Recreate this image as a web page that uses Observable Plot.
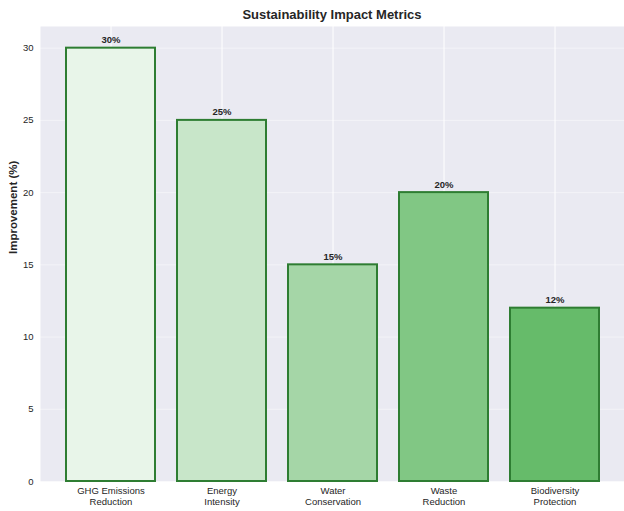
<!DOCTYPE html>
<html>
<head>
<meta charset="utf-8">
<script src="https://cdn.jsdelivr.net/npm/d3@7"></script>
<script src="https://cdn.jsdelivr.net/npm/@observablehq/plot@0.6"></script>
<style>
  html, body { margin: 0; padding: 0; background: #ffffff; overflow: hidden; }
  #wrap { position: relative; width: 624px; height: 511px; font-family: "Liberation Sans", Arial, sans-serif; }
  #title { position: absolute; left: 40px; width: 584px; top: 7px; text-align: center; font-size: 13px; font-weight: bold; color: #262626; }
</style>
</head>
<body>
<div id="wrap">
  <div id="title">Sustainability Impact Metrics</div>
</div>
<script>
const categories = [
  "GHG Emissions\nReduction",
  "Energy\nIntensity",
  "Water\nConservation",
  "Waste\nReduction",
  "Biodiversity\nProtection"
];
const values = [30, 25, 15, 20, 12];
const barColors = ["#e8f5e9", "#c8e6c9", "#a5d6a7", "#81c784", "#66bb6a"];
const yTicks = [0, 5, 10, 15, 20, 25, 30];

const data = categories.map((c, i) => ({cat: c, value: values[i], color: barColors[i]}));

const chart = Plot.plot({
  width: 624,
  height: 511,
  marginTop: 26,
  marginBottom: 30,
  marginLeft: 40,
  marginRight: 0,
  style: {fontFamily: "'Liberation Sans', Arial, sans-serif", fontSize: "9.5px", color: "#262626", background: "transparent", overflow: "visible"},
  x: {type: "band", domain: categories, paddingInner: 0.2, paddingOuter: 0.23, label: null},
  y: {domain: [0, 31.5], label: null},
  color: {type: "identity"},
  marks: [
    Plot.frame({fill: "#eaeaf2", stroke: null}),
    Plot.gridY(yTicks, {stroke: "#ffffff", strokeOpacity: 0.45, strokeWidth: 1}),
    Plot.gridX({stroke: "#ffffff", strokeOpacity: 1, strokeWidth: 1}),
    Plot.barY(data, {x: "cat", y: "value", fill: "color", stroke: "#2e7d32", strokeWidth: 2}),
    Plot.text(data, {x: "cat", y: "value", text: d => `${d.value}%`, dy: -8, fontWeight: "bold", fontSize: 9.5, fill: "#262626"}),
    Plot.axisY(yTicks, {tickSize: 0, tickPadding: 7, label: null, fill: "#262626"}),
    Plot.axisX({tickSize: 0, tickPadding: 5, label: null, fill: "#262626", lineHeight: 1.15}),
    Plot.text(["Improvement (%)"], {frameAnchor: "left", dx: -27, rotate: -90, fontWeight: "bold", fontSize: 11.5, fill: "#262626"})
  ]
});
document.getElementById("wrap").prepend(chart);
</script>
</body>
</html>
